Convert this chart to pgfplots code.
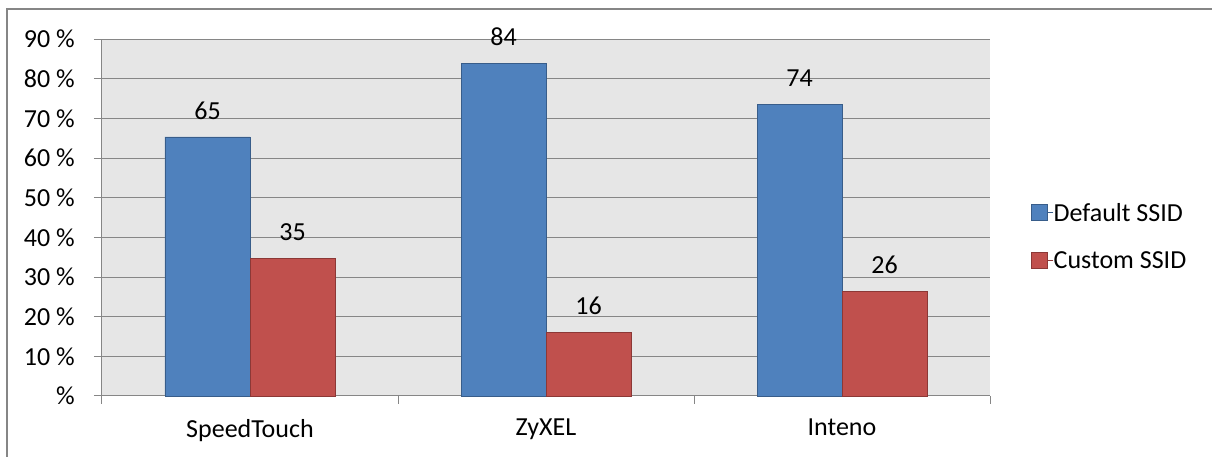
\documentclass[border=0pt]{standalone}
\usepackage{fontspec}
\setmainfont{Carlito}
\usepackage{pgfplots}
\pgfplotsset{compat=1.18}
\definecolor{cblue}{HTML}{4F81BD}
\definecolor{cred}{HTML}{C0504D}
\definecolor{cblueB}{HTML}{385D8A}
\definecolor{credB}{HTML}{8C3836}
\definecolor{plotbg}{HTML}{E6E6E6}
\definecolor{gridc}{HTML}{868686}
\begin{document}
\begin{tikzpicture}[x=1pt,y=1pt,font=\fontsize{26}{30}\selectfont]
\useasboundingbox (-102,-61) rectangle (1110,396);
\draw[gridc,line width=1.3pt] (-95,-61) -- (-95,387) -- (1110,387);
\begin{axis}[
  at={(0,0)}, anchor=south west,
  scale only axis, width=888pt, height=357pt,
  ybar=0pt, bar width=85pt,
  xmin=-0.5, xmax=2.5, ymin=0, ymax=90,
  axis background/.style={fill=plotbg},
  axis lines*=left,
  axis line style={gridc, line width=1pt},
  xtick={0,1,2}, xticklabels={SpeedTouch,ZyXEL,Inteno},
  minor xtick={-0.5,0.5,1.5,2.5},
  major x tick style={draw=none},
  minor tick length=8pt,
  minor x tick style={gridc, line width=1pt},
  ytick={0,10,...,90},
  yticklabels={\%,10 \%,20 \%,30 \%,40 \%,50 \%,60 \%,70 \%,80 \%,90 \%},
  major tick length=8pt,
  tick align=outside,
  major y tick style={gridc, line width=1pt},
  ymajorgrids, major grid style={gridc, line width=1pt},
  yticklabel style={font=\fontsize{26}{30}\selectfont, inner sep=0pt, xshift=-19pt},
  xticklabel style={font=\fontsize{26}{30}\selectfont, inner sep=0pt, yshift=-15pt},
  /pgf/number format/assume math mode=true,
  nodes near coords,
  point meta=explicit symbolic,
  every node near coord/.append style={font=\fontsize{26}{30}\selectfont, black, yshift=14pt},
  legend style={at={(1.046,0.447)}, anchor=west, draw=none, fill=none,
    font=\fontsize{26}{30}\selectfont, row sep=29pt,
    legend cell align=left, inner sep=0pt, outer sep=0pt,
    nodes={inner sep=0pt}},
  legend image code/.code={\path (0pt,0pt) -- (22pt,0pt);\draw[#1] (0pt,-8pt) rectangle (16pt,8pt);},
  clip=false,
]
\addplot[fill=cblue, draw=cblueB, line width=0.8pt] coordinates {(0,65.3) [65] (1,83.9) [84] (2,73.6) [74]};
\addplot[fill=cred, draw=credB, line width=0.8pt] coordinates {(0,34.7) [35] (1,16.1) [16] (2,26.4) [26]};
\legend{Default SSID, Custom SSID}
\end{axis}
\end{tikzpicture}
\end{document}
